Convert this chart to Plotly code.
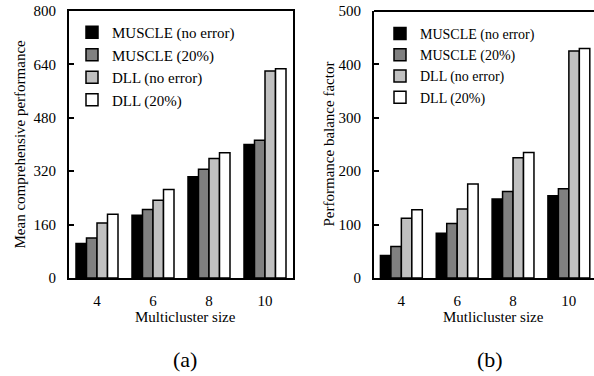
import plotly.graph_objects as go

categories = ["4", "6", "8", "10"]
series_names = ["MUSCLE (no error)", "MUSCLE (20%)", "DLL (no error)", "DLL (20%)"]

# (a) Mean comprehensive performance
a_muscle_noerr = [103, 188, 303, 400]
a_muscle_20 = [120, 205, 326, 413]
a_dll_noerr = [165, 233, 358, 620]
a_dll_20 = [191, 265, 375, 627]

# (b) Performance balance factor
b_muscle_noerr = [42, 84, 148, 154]
b_muscle_20 = [59, 102, 162, 167]
b_dll_noerr = [112, 129, 225, 425]
b_dll_20 = [128, 176, 235, 430]

a_ticks = [0, 160, 320, 480, 640, 800]
b_ticks = [0, 100, 200, 300, 400, 500]

colors = ["#000000", "#808080", "#c0c0c0", "#ffffff"]
FONT = "Liberation Serif, Times New Roman, serif"

fig = go.Figure()
for name, vals, c in zip(series_names, [a_muscle_noerr, a_muscle_20, a_dll_noerr, a_dll_20], colors):
    fig.add_trace(go.Bar(x=categories, y=vals, name=name, marker=dict(color=c, line=dict(color="#000", width=1.5)),
                         xaxis="x", yaxis="y", legend="legend"))
for name, vals, c in zip(series_names, [b_muscle_noerr, b_muscle_20, b_dll_noerr, b_dll_20], colors):
    fig.add_trace(go.Bar(x=categories, y=vals, name=name, marker=dict(color=c, line=dict(color="#000", width=1.5)),
                         xaxis="x2", yaxis="y2", legend="legend2"))

W, H = 594, 376
T, B = 11, 98
ph = H - T - B

def px(pix):
    return pix / W

def py(pix):
    return (H - B - pix) / ph

axis_common = dict(showgrid=False, zeroline=False, linecolor="#000", linewidth=2, automargin=False,
                   tickfont=dict(family=FONT, size=15, color="#000"))

fig.update_layout(
    width=W, height=H,
    margin=dict(l=0, r=0, t=T, b=B, autoexpand=False),
    paper_bgcolor="#fff", plot_bgcolor="#fff",
    barmode="group", bargap=0.25, bargroupgap=0,
    font=dict(family=FONT, size=15, color="#000"),
    xaxis=dict(domain=[px(69), px(293)], type="category", range=[-0.5, 3.5], showline=True, mirror=True,
               ticks="", ticklabelstandoff=8, anchor="y", **axis_common),
    yaxis=dict(domain=[0, 1], range=[0, 800], tickvals=a_ticks, showline=True, mirror=True,
               ticks="inside", ticklen=5, tickwidth=2, tickcolor="#000", ticklabelstandoff=8,
               ticklabeloverflow="allow", anchor="x", **axis_common),
    xaxis2=dict(domain=[px(374), 1], type="category", range=[-0.49, 3.45], showline=True,
                ticks="", ticklabelstandoff=8, anchor="y2", **axis_common),
    yaxis2=dict(domain=[0, 1], range=[0, 500], tickvals=b_ticks, showline=True,
                ticks="inside", ticklen=5, tickwidth=2, tickcolor="#000", ticklabelstandoff=8,
                ticklabeloverflow="allow", anchor="x2", **axis_common),
    legend=dict(x=px(72), y=py(16), xanchor="left", yanchor="top", bgcolor="rgba(0,0,0,0)",
                font=dict(family=FONT, size=15, color="#000"), tracegroupgap=0),
    legend2=dict(x=px(380), y=py(18), xanchor="left", yanchor="top", bgcolor="rgba(0,0,0,0)",
                 font=dict(family=FONT, size=14, color="#000"), tracegroupgap=0),
    shapes=[dict(type="line", xref="paper", yref="paper", x0=px(374), x1=1, y0=1, y1=1,
                 line=dict(color="#000", width=2))],
    annotations=[
        dict(text="Mean comprehensive performance", x=px(19), y=0.5, xref="paper", yref="paper",
             textangle=-90, showarrow=False, xanchor="center", yanchor="middle", font=dict(size=15)),
        dict(text="Performance balance factor", x=px(328), y=0.5, xref="paper", yref="paper",
             textangle=-90, showarrow=False, xanchor="center", yanchor="middle", font=dict(size=15)),
        dict(text="Multicluster size", x=px(185), y=py(317), xref="paper", yref="paper",
             showarrow=False, xanchor="center", yanchor="middle", font=dict(size=15)),
        dict(text="Mutlicluster size", x=px(493), y=py(317), xref="paper", yref="paper",
             showarrow=False, xanchor="center", yanchor="middle", font=dict(size=15)),
        dict(text="(a)", x=px(185), y=py(360), xref="paper", yref="paper",
             showarrow=False, xanchor="center", yanchor="middle", font=dict(size=22)),
        dict(text="(b)", x=px(490), y=py(360), xref="paper", yref="paper",
             showarrow=False, xanchor="center", yanchor="middle", font=dict(size=22)),
    ],
)

# remove the browser's default 8px body margin so the figure fills the window exactly
fig.write_html("out.html", config={"displayModeBar": False},
               post_script="document.body.style.margin='0px';")
